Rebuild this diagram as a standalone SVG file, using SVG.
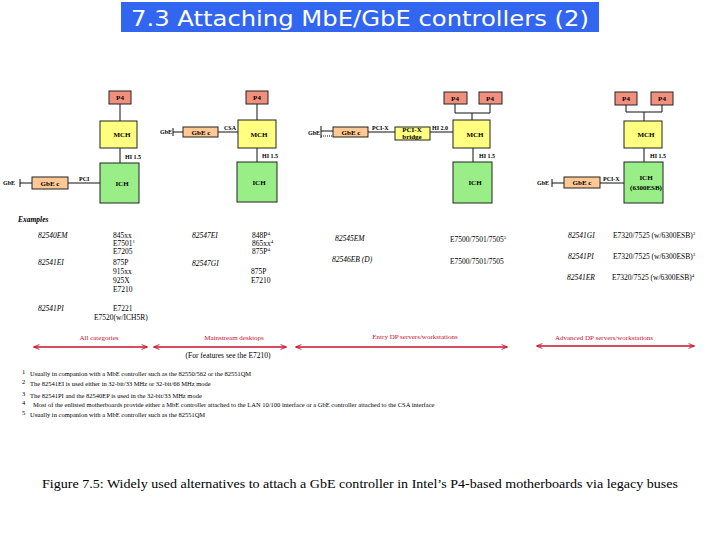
<svg xmlns="http://www.w3.org/2000/svg" width="720" height="540" viewBox="0 0 720 540">
<defs>
<style>
.p4{fill:#F2907E;stroke:#222;stroke-width:1}
.mch{fill:#FFFF80;stroke:#222;stroke-width:1}
.ich{fill:#99EE88;stroke:#222;stroke-width:1}
.gbc{fill:#FFC894;stroke:#222;stroke-width:1}
.ln{stroke:#111;stroke-width:1;fill:none}
.dot{stroke:#111;stroke-width:1;fill:none;stroke-dasharray:1,1}
.lb{font-family:"Liberation Serif",serif;font-weight:bold;font-size:7px;fill:#000;text-anchor:middle}
.sm{font-family:"Liberation Serif",serif;font-weight:bold;font-size:6px;fill:#000}
.ex{font-family:"Liberation Serif",serif;font-size:7.5px;fill:#000}
.exi{font-family:"Liberation Serif",serif;font-style:italic;font-size:7.5px;fill:#000}
.red{stroke:#C8102E;stroke-width:1.3;fill:none}
.rt{font-family:"Liberation Serif",serif;font-size:7px;fill:#C8102E;text-anchor:middle}
.fn{font-family:"Liberation Serif",serif;font-size:6.5px;fill:#000}
.sup{font-size:5px}
</style>
<marker id="ah" viewBox="0 0 10 10" refX="9" refY="5" markerWidth="9" markerHeight="6" orient="auto-start-reverse" markerUnits="userSpaceOnUse">
<path d="M0,1 L10,5 L0,9" fill="none" stroke="#C8102E" stroke-width="1.5"/>
</marker>
</defs>
<rect width="720" height="540" fill="#fff"/>

<g id="title">
<rect x="121" y="2" width="478" height="30" fill="#3366F0"/>
<text x="360" y="26" font-family="DejaVu Sans, sans-serif" font-size="21" fill="#fff" text-anchor="middle" textLength="458" lengthAdjust="spacingAndGlyphs">7.3 Attaching MbE/GbE controllers (2)</text>
</g>

<g id="connectors">
<path class="ln" d="M120,104 V121 M120,148 V163 M68,183 H100 M20,183 H32 M20,179 V187"/>
<path class="ln" d="M257,104 V120 M257,148 V162 M218,132 H238 M173,132 H183 M173,128 V136"/>
<path class="ln" d="M455,104 V113 H490 V104 M472,113 V120 M473,148 V162 M430,132 H453 M368,132 H395 M321,131 H333 M321,126 V138"/>
<path class="dot" d="M321,136 H333"/>
<path class="ln" d="M626,105 V112 H662 V105 M644,112 V121 M644,148 V162 M600,183 H624 M552,183 H564 M552,179 V187"/>
</g>

<g id="bus-labels">
<text class="sm" x="125" y="159">HI 1.5</text>
<text class="sm" x="79" y="181">PCI</text>
<text class="sm" x="224" y="130">CSA</text>
<text class="sm" x="262" y="158">HI 1.5</text>
<text class="sm" x="372" y="130">PCI-X</text>
<text class="sm" x="432" y="130">HI 2.0</text>
<text class="sm" x="479" y="158">HI 1.5</text>
<text class="sm" x="603" y="181">PCI-X</text>
<text class="sm" x="650" y="158">HI 1.5</text>
</g>

<g id="d1-p4"><rect class="p4" x="109" y="91" width="22" height="13"/><text class="lb" x="120" y="100">P4</text></g>
<g id="d1-mch"><rect class="mch" x="100" y="121" width="37" height="27"/><text class="lb" x="122" y="137">MCH</text></g>
<g id="d1-ich"><rect class="ich" x="100" y="163" width="39" height="40"/><text class="lb" x="122" y="186">ICH</text></g>
<g id="d1-gbec"><rect class="gbc" x="32" y="177" width="36" height="12"/><text class="lb" x="50" y="185.5">GbE c</text></g>
<g id="d1-gbe"><text class="sm" x="3" y="185">GbE</text></g>

<g id="d2-p4"><rect class="p4" x="246" y="91" width="22" height="13"/><text class="lb" x="257" y="100">P4</text></g>
<g id="d2-mch"><rect class="mch" x="238" y="120" width="38" height="28"/><text class="lb" x="259" y="137">MCH</text></g>
<g id="d2-ich"><rect class="ich" x="237" y="162" width="40" height="40"/><text class="lb" x="259" y="185">ICH</text></g>
<g id="d2-gbec"><rect class="gbc" x="183" y="127" width="35" height="10"/><text class="lb" x="201" y="134.5">GbE c</text></g>
<g id="d2-gbe"><text class="sm" x="160" y="134">GbE</text></g>

<g id="d3-p4a"><rect class="p4" x="444" y="92" width="23" height="12"/><text class="lb" x="455" y="100.5">P4</text></g>
<g id="d3-p4b"><rect class="p4" x="479" y="92" width="23" height="12"/><text class="lb" x="490" y="100.5">P4</text></g>
<g id="d3-mch"><rect class="mch" x="453" y="120" width="37" height="28"/><text class="lb" x="475" y="137">MCH</text></g>
<g id="d3-ich"><rect class="ich" x="453" y="162" width="39" height="41"/><text class="lb" x="475" y="185">ICH</text></g>
<g id="d3-bridge"><rect class="mch" x="395" y="127" width="35" height="13"/><text class="lb" x="412" y="131.6" font-size="4.5">PCI-X</text><text class="lb" x="412" y="138.8" font-size="4.5">bridge</text></g>
<g id="d3-gbec"><rect class="gbc" x="333" y="127" width="35" height="10"/><text class="lb" x="351" y="134.5">GbE c</text></g>
<g id="d3-gbe"><text class="sm" x="308" y="135">GbE</text></g>

<g id="d4-p4a"><rect class="p4" x="615" y="92" width="22" height="13"/><text class="lb" x="626" y="101">P4</text></g>
<g id="d4-p4b"><rect class="p4" x="651" y="92" width="22" height="13"/><text class="lb" x="662" y="101">P4</text></g>
<g id="d4-mch"><rect class="mch" x="624" y="121" width="38" height="27"/><text class="lb" x="646" y="137">MCH</text></g>
<g id="d4-ich"><rect class="ich" x="624" y="162" width="39" height="41"/><text class="lb" x="646" y="180">ICH</text><text class="lb" x="646" y="190">(6300ESB)</text></g>
<g id="d4-gbec"><rect class="gbc" x="564" y="177" width="36" height="11"/><text class="lb" x="582" y="185">GbE c</text></g>
<g id="d4-gbe"><text class="sm" x="537" y="185">GbE</text></g>

<g id="examples">
<text class="exi" x="18" y="222" font-weight="bold">Examples</text>
<text class="exi" x="38" y="238">82540EM</text>
<text class="ex" x="113" y="238">845xx</text>
<text class="ex" x="113" y="246">E7501<tspan class="sup" dy="-3">1</tspan></text>
<text class="ex" x="113" y="254">E7205</text>
<text class="exi" x="38" y="265">82541EI</text>
<text class="ex" x="113" y="265">875P</text>
<text class="ex" x="113" y="274">915xx</text>
<text class="ex" x="113" y="283">925X</text>
<text class="ex" x="113" y="292">E7210</text>
<text class="exi" x="38" y="311">82541PI</text>
<text class="ex" x="113" y="311">E7221</text>
<text class="ex" x="94" y="320">E7520(w/ICH5R)</text>

<text class="exi" x="192" y="238">82547EI</text>
<text class="ex" x="252" y="238">848P<tspan class="sup" dy="-3">4</tspan></text>
<text class="ex" x="252" y="246">865xx<tspan class="sup" dy="-3">4</tspan></text>
<text class="ex" x="252" y="254">875P<tspan class="sup" dy="-3">4</tspan></text>
<text class="exi" x="192" y="266">82547GI</text>
<text class="ex" x="251" y="274">875P</text>
<text class="ex" x="251" y="283">E7210</text>

<text class="exi" x="335" y="241">82545EM</text>
<text class="exi" x="332" y="262">82546EB (D)</text>
<text class="ex" x="450" y="242">E7500/7501/7505<tspan class="sup" dy="-3">5</tspan></text>
<text class="ex" x="450" y="264">E7500/7501/7505</text>

<text class="exi" x="568" y="238">82541GI</text>
<text class="ex" x="613" y="238">E7320/7525 (w/6300ESB)<tspan class="sup" dy="-3">3</tspan></text>
<text class="exi" x="568" y="259">82541PI</text>
<text class="ex" x="613" y="259">E7320/7525 (w/6300ESB)<tspan class="sup" dy="-3">3</tspan></text>
<text class="exi" x="567" y="280">82541ER</text>
<text class="ex" x="612" y="280">E7320/7525 (w/6300ESB)<tspan class="sup" dy="-3">4</tspan></text>
</g>

<g id="ranges">
<path class="red" d="M34,347 H147" marker-start="url(#ah)" marker-end="url(#ah)"/>
<path class="red" d="M154,347 H286" marker-start="url(#ah)" marker-end="url(#ah)"/>
<path class="red" d="M296,347 H507" marker-start="url(#ah)" marker-end="url(#ah)"/>
<path class="red" d="M537,346 H694" marker-start="url(#ah)" marker-end="url(#ah)"/>
<text class="rt" x="99" y="340">All categories</text>
<text class="rt" x="234" y="340">Mainstream desktops</text>
<text class="rt" x="415" y="339">Entry DP servers/workstations</text>
<text class="rt" x="604" y="340">Advanced DP servers/workstations</text>
<text class="ex" x="228" y="358" text-anchor="middle" font-size="7">(For features see the E7210)</text>
</g>

<g id="footnotes">
<text class="fn" x="22" y="374" font-size="5">1</text>
<text class="fn" x="30" y="376">Usually in companion with a MbE controller such as the 82550/562 or the 82551QM</text>
<text class="fn" x="22" y="384" font-size="5">2</text>
<text class="fn" x="30" y="386">The 82541EI is used either in 32-bit/33 MHz or 32-bit/66 MHz mode</text>
<text class="fn" x="22" y="396" font-size="5">3</text>
<text class="fn" x="30" y="398">The 82541PI and the 82540EP is used in the 32-bit/33 MHz mode</text>
<text class="fn" x="22" y="405" font-size="5">4</text>
<text class="fn" x="33" y="407">Most of the enlisted motherboards provide either a MbE controller attached to the LAN 10/100 interface or a GbE controller attached to the CSA interface</text>
<text class="fn" x="22" y="415" font-size="5">5</text>
<text class="fn" x="30" y="417">Usually in companion with a MbE controller such as the 82551QM</text>
</g>

<g id="caption">
<text x="360" y="488" font-family="Liberation Serif, serif" font-size="12.5" fill="#000" text-anchor="middle" textLength="636" lengthAdjust="spacingAndGlyphs">Figure 7.5: Widely used alternatives to attach a GbE controller in Intel’s P4-based motherboards via legacy buses</text>
</g>
</svg>
